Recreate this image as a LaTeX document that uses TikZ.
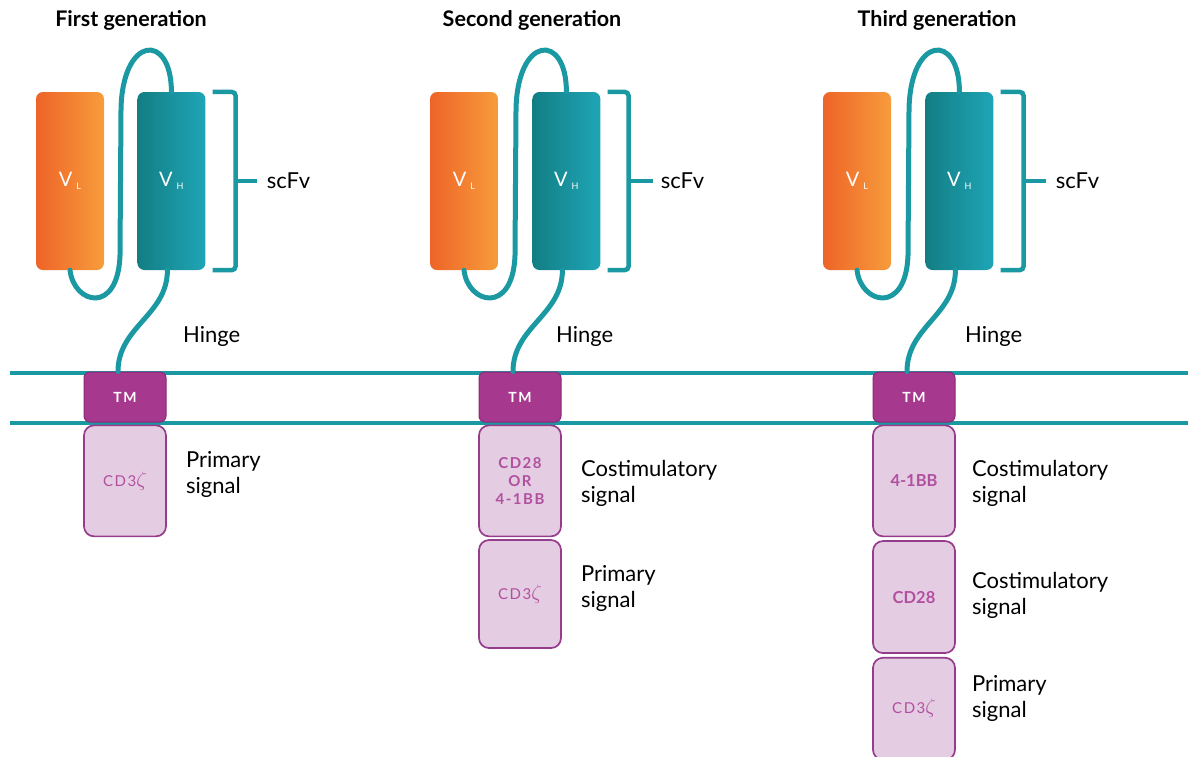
\documentclass[tikz,border=0pt]{standalone}
\usepackage{fontspec}
\setmainfont{Lato}
\newfontfamily\spacedfont{Lato}[LetterSpace=10]
\usepackage{tikz}
\usetikzlibrary{positioning}

\definecolor{carTeal}{RGB}{27,153,163}
\definecolor{vlDark}{RGB}{238,100,40}
\definecolor{vlLight}{RGB}{247,156,60}
\definecolor{vhDark}{RGB}{18,126,132}
\definecolor{vhLight}{RGB}{31,165,182}
\definecolor{tmFill}{RGB}{166,56,142}
\definecolor{tmEdge}{RGB}{140,40,120}
\definecolor{sigFill}{RGB}{228,204,226}
\definecolor{sigEdge}{RGB}{150,60,140}
\definecolor{sigText}{RGB}{178,80,160}

\newcommand{\vdomain}[1]{{\fontsize{20}{20}\selectfont V}\kern4pt\raisebox{-3pt}{\fontsize{9}{9}\selectfont #1}}
\newcommand{\zetachain}{{\mdseries CD3\fontsize{20}{20}\selectfont$\zeta$}}

\begin{document}
\begin{tikzpicture}[
        x=1pt, y=-1pt,
        node distance=2pt and 19pt,
        vlbox/.style={rounded corners=7pt, minimum width=68pt, minimum height=178pt, inner sep=0pt, left color=vlDark, right color=vlLight, text=white},
        vhbox/.style={vlbox, left color=vhDark, right color=vhLight},
        tmbox/.style={draw=tmEdge, fill=tmFill, line width=1pt, rounded corners=6pt, minimum width=82pt, minimum height=50pt, text=white, font=\spacedfont\bfseries\fontsize{14}{14}\selectfont},
        sigbox/.style={draw=sigEdge, fill=sigFill, line width=1.7pt, rounded corners=10pt, minimum width=82pt, minimum height=111pt, inner sep=0pt, text=sigText, align=center, font=\spacedfont\bfseries\fontsize{15}{18}\selectfont},
        boldsig/.style={sigbox, font=\bfseries\fontsize{16.5}{18}\selectfont},
        lbl/.style={font=\fontsize{22}{26}\selectfont, align=left, inner sep=0pt, anchor=west},
        title/.style={font=\bfseries\fontsize{21.5}{24}\selectfont},
        link/.style={draw=carTeal, line width=5pt, line cap=round},
        brace/.style={draw=carTeal, line width=4.5pt, rounded corners=4pt},
        membrane/.style={draw=carTeal, line width=4.5pt}
    ]
        \useasboundingbox (0,0) rectangle (1188,756);
        \draw[membrane] (10,373) -- (1188,373);
        \draw[membrane] (10,423) -- (1188,423);

        % first generation
        \node[title] (t1) at (131,20) {First generation};
        \node[vlbox] (vl1) at (70,181) {\vdomain{L}};
        \node[vhbox, right=33pt of vl1] (vh1) {\vdomain{H}};
        \coordinate[right=30pt of vh1] (br1);
        \node[lbl, right=31pt of br1] (scfv1) {scFv};
        \node[lbl] (hinge1) at (183,336) {Hinge};
        \node[tmbox] (tm1) at (125,397) {TM};
        \node[sigbox, below=2pt of tm1] (cd3z1) {\zetachain};
        \node[lbl, right=19pt of cd3z1, yshift=6pt] (prim1) {Primary\\signal};

        \draw[link] (vl1.south) .. controls +(4,34) and +(-2,60) .. ++(50,-15) -- ++(1,-145) .. controls +(1,-75) and +(0,-60) .. (vh1.north);
        \draw[link] ([xshift=-4pt]vh1.south) .. controls +(0,45) and +(0,-45) .. ([xshift=-7pt]tm1.north);
        \draw[brace] ([xshift=7pt]vh1.north east) -| (br1) |- ([xshift=7pt]vh1.south east);
        \draw[brace, shorten >=10pt] (br1) -- (scfv1.west);

        % second generation
        \node[title] (t2) at (532,20) {Second generation};
        \node[vlbox] (vl2) at (464,181) {\vdomain{L}};
        \node[vhbox, right=34pt of vl2] (vh2) {\vdomain{H}};
        \coordinate[right=28pt of vh2] (br2);
        \node[lbl, right=32pt of br2] (scfv2) {scFv};
        \node[lbl] (hinge2) at (556,336) {Hinge};
        \node[tmbox] (tm2) at (520,397) {TM};
        \node[sigbox, below=2pt of tm2] (co2) {CD28\\OR\\4-1BB};
        \node[sigbox, below=2pt of co2, minimum height=108pt] (cd3z2) {\zetachain};
        \node[lbl, right=19pt of co2, yshift=-3pt] (cost2) {Costimulatory\\signal};
        \node[lbl, right=19pt of cd3z2, yshift=6pt] (prim2) {Primary\\signal};

        \draw[link] (vl2.south) .. controls +(4,34) and +(-2,60) .. ++(51,-15) -- ++(1,-145) .. controls +(1,-75) and +(0,-60) .. (vh2.north);
        \draw[link] ([xshift=-4pt]vh2.south) .. controls +(0,45) and +(0,-45) .. ([xshift=-7pt]tm2.north);
        \draw[brace] ([xshift=7pt]vh2.north east) -| (br2) |- ([xshift=7pt]vh2.south east);
        \draw[brace, shorten >=8pt] (br2) -- (scfv2.west);

        % third generation
        \node[title] (t3) at (937,20) {Third generation};
        \node[vlbox] (vl3) at (857,181) {\vdomain{L}};
        \node[vhbox, right=34pt of vl3] (vh3) {\vdomain{H}};
        \coordinate[right=30pt of vh3] (br3);
        \node[lbl, right=32pt of br3] (scfv3) {scFv};
        \node[lbl] (hinge3) at (965,336) {Hinge};
        \node[tmbox] (tm3) at (914,397) {TM};
        \node[boldsig, below=2pt of tm3] (bb3) {4-1BB};
        \node[boldsig, below=3pt of bb3, minimum height=112pt] (cd28) {CD28};
        \node[sigbox, below=3pt of cd28, minimum height=102pt] (cd3z3) {\zetachain};
        \node[lbl, right=16pt of bb3, yshift=-3pt] (cost3) {Costimulatory\\signal};
        \node[lbl, right=16pt of cd28, yshift=2pt] (cost4) {Costimulatory\\signal};
        \node[lbl, right=16pt of cd3z3, yshift=10pt] (prim3) {Primary\\signal};

        \draw[link] (vl3.south) .. controls +(4,34) and +(-2,60) .. ++(51,-15) -- ++(1,-145) .. controls +(1,-75) and +(0,-60) .. (vh3.north);
        \draw[link] ([xshift=-4pt]vh3.south) .. controls +(0,45) and +(0,-45) .. ([xshift=-7pt]tm3.north);
        \draw[brace] ([xshift=7pt]vh3.north east) -| (br3) |- ([xshift=7pt]vh3.south east);
        \draw[brace, shorten >=10pt] (br3) -- (scfv3.west);
    \end{tikzpicture}
\end{document}
